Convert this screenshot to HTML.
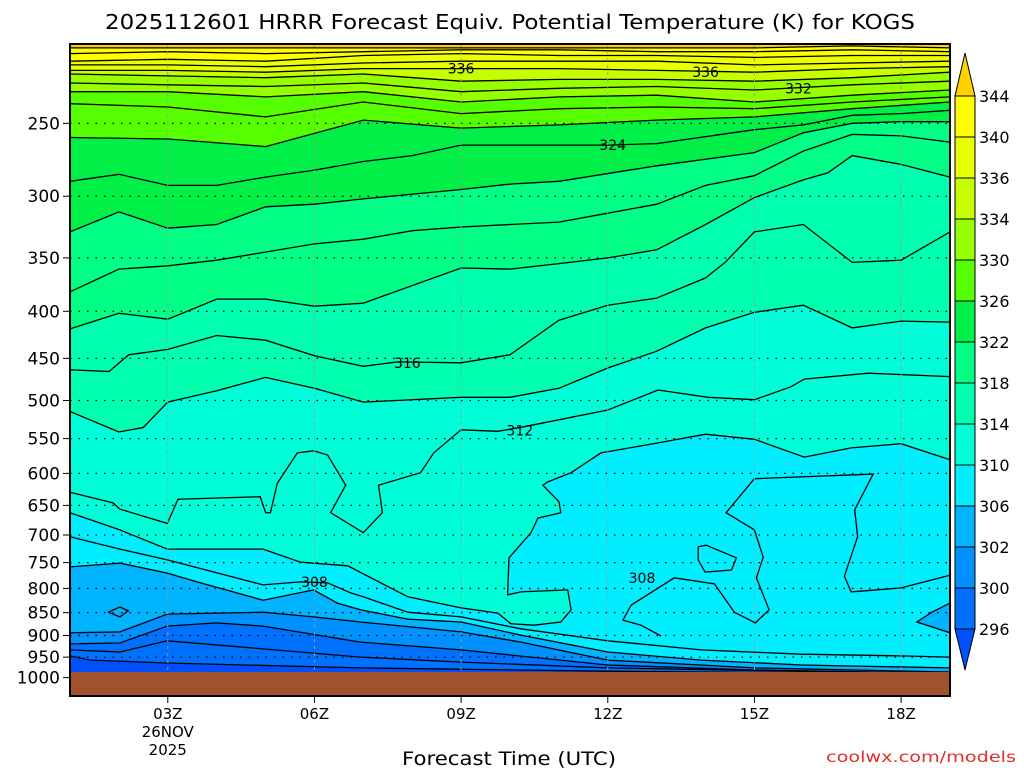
<!DOCTYPE html>
<html><head><meta charset="utf-8">
<style>
html,body{margin:0;padding:0;background:#fff;}
svg{display:block;font-family:"DejaVu Sans","Liberation Sans",sans-serif;}
</style></head>
<body>
<svg id="chart" width="1024" height="768" viewBox="0 0 1024 768" xmlns="http://www.w3.org/2000/svg">
<g id="fills"></g>
<g id="lines"></g>
<g id="grid"></g>
<rect x="70" y="672" width="880" height="24" fill="#a0522d"/>
<g id="labels"></g>
<rect x="70" y="44" width="880" height="652" fill="none" stroke="#000" stroke-width="2"/>
<g id="yaxis"></g>
<g id="xaxis"></g>
<g id="cbar"></g>
<text x="105" y="29" font-size="20" textLength="810" lengthAdjust="spacingAndGlyphs">2025112601 HRRR Forecast Equiv. Potential Temperature (K) for KOGS</text>
<text x="402" y="765" font-size="19" textLength="214" lengthAdjust="spacingAndGlyphs">Forecast Time (UTC)</text>
<text x="826" y="762" font-size="15" fill="#e0302a" textLength="190" lengthAdjust="spacingAndGlyphs">coolwx.com/models</text>
</svg>
<script>
const H = [1,3,5,7,9,11,13,15,17,19];
const contourLevels = [296,298,300,302,306,308,310,312,314,316,318,320,322,324,326,328,330,332,334,336,338,340,342,344];
const contourHours = [
 [1,1.41,2.99,6.94,12,19],
 [1,2.02,2.99,6.94,9,12,19],
 [1,2.02,2.99,3.99,4.95,6.94,9,12,15,19],
 [1,2.02,2.99,4.95,5.98,6.94,9,10.22,12,15,19],
 [1,2.02,2.99,3.6,4.95,5.98,6.47,6.94,7.91,9,10.22,12,13.91,15.96,19],
 [1,2.02,2.99,4.95,5.71,6.27,6.74,7,7.91,9,10.22,12,13.91,15.96,18,19],
 [1,2.02,2.99,4.95,5.71,6.68,7.91,9,9.75,10.02,10.49,11.04,11.25,11.18,10.22,9.95,9.98,10.43,10.57,11.04,11,10.67,10.77,11.25,11.86,13.03,14,15,16.02,16.98,18,19],
 [1,1.88,2.02,2.99,3.21,4.89,5.0,5.1,5.24,5.65,5.98,6.27,6.64,6.33,7.0,7.39,7.31,8.17,8.44,9,9.75,10.28,12,13.03,14.05,15,15.75,16.02,17.33,19],
 [1,2,2.5,3,4,5,6,7,9,10,11,12,13,14,15,16,17,18,19],
 [1,1.8,2.2,3,4,5,6,7,7.7,9,10,11,12,13,14,14.4,15,16,17,18,19],
 [1,2,3,4,5,6,7,9,10,11,12,13,14,15,16,16.5,17,18,19],
 [1,2,3,4,6,7,8,9,10,11,12,13,14,15,16,17,18,19],
 [1,2,3,4,5,6,7,9,10,11,13,15,16,17,18,19],
 [1,2,3,4,5,6,7,8,9,10,12,13,15,16,17,18,19],
 H,H,H,H,H,H,H,H,H,H
];
const contourPress = [
 [947,957,964,976,984,991],
 [933,938,912,950,962,976,991],
 [919,917,879,872,879,915,933,969,981,989],
 [894,892,853,849,859,870,892,915,957,976,986],
 [758,751,770,787,824,803,830,844,864,870,899,938,957,969,976],
 [703,725,745,793,787,789,809,817,849,859,885,912,933,943,947,950],
 [662,691,725,725,749,756,817,840,851,874,877,870,844,803,807,813,741,696,671,662,644,618,613,599,570,556,544,551,576,563,557,580],
 [629,646,656,680,640,636,662,662,615,570,567,573,618,662,696,662,618,599,570,538,540,534,512,487,496,499,483,474,467,471],
 [514,541,535,502,488,472,485,502,496,496,485,461,442,417,401,394,417,410,411],
 [463,465,446,440,425,430,447,459,454,455,446,409,394,387,368,354,328,322,354,352,328],
 [418,402,408,388,388,395,392,359,360,355,350,343,322,301,288,283,271,277,286],
 [381,360,357,352,338,334,327,324,322,320,313,306,292,285,268,257,258,262],
 [328,312,325,322,308,306,302,295,291,289,278,269,256,250,249,249],
 [289,284,292,292,286,281,275,271,264,264,264,263,254,251,245,244,242],
 [259,260,265,248,253,251,248,246,241,237],
 [238,240,246,237,244,241,240,241,237,234],
 [231,231,234,231,237,234,233,237,233,230],
 [226,227,228,226,231,229,228,230,227,225],
 [221,222,223,221,225,224,224,225,223,220],
 [219,219,220,218,218,218,219,220,218,217],
 [216,216,217,215,214,214,214,216,215,214],
 [214,213,214,211,210,211,211,212,211,211],
 [210,209,210,209,208,208,209,209,208,209],
 [207,207,207,207,207,207,207,207,206,207]
];
const loopLevels = [308,308,304];
const loopHours = [
 [19,18,16.98,16.84,17.11,17.05,17.43,15,14.42,15,15.18,15.04,15.3,15.02,14.59,14.18,13.36,12.48,12.31,12.68,13.09],
 [13.85,14.01,14.63,14.53,13.99,13.85,13.85],
 [1.78,2.02,2.19,2.02,1.78]
];
const loopPress = [
 [774,799,807,776,703,657,601,608,662,691,740,779,844,872,849,791,779,834,866,877,901],
 [721,718,741,764,768,745,721],
 [849,838,846,859,849]
];
const blobLevels = [306];
const blobHours = [[19,18.63,18.32,19]];
const blobPress = [[830,849,870,894]];
const labelTexts = ["336","336","332","324","316","312","308","308"];
const labelHours = [9,14,15.9,12.1,7.9,10.2,6,12.7];
const labelPress = [218,220,229,264,455,539,787,779];
const bandEdges = [296,300,302,306,310,314,318,322,326,330,334,336,340,344];
const bandColors = ["#0050ff","#0070ff","#0090ff","#00b4ff","#00eeff","#00ffd8","#00ffae","#00ff84","#00f048","#55ff00","#96ff00","#c8ff00","#eaff00","#ffff00","#ffd200"];
const pressTicks = [250,300,350,400,450,500,550,600,650,700,750,800,850,900,950,1000];
const timeTicks = [3,6,9,12,15,18];
const timeLabels = ["03Z","06Z","09Z","12Z","15Z","18Z"];

const NS="http://www.w3.org/2000/svg";
const X0=70,X1=950,Y0=44,Y1=696,pTop=205,pBot=1047;
function xOf(h){return X0+(h-1)*(X1-X0)/18;}
function yOf(p){return Y0+(Y1-Y0)*(Math.log(p)-Math.log(pTop))/(Math.log(pBot)-Math.log(pTop));}
function colorFor(v){let i=0;while(i<bandEdges.length&&v>=bandEdges[i])i++;return bandColors[i];}
function mk(tag,attrs,parent){const e=document.createElementNS(NS,tag);for(const k in attrs)e.setAttribute(k,attrs[k]);parent.appendChild(e);return e;}
function pts(hs,ps){return hs.map((h,i)=>xOf(h).toFixed(1)+","+yOf(ps[i]).toFixed(1));}

const fills=document.getElementById('fills'),lines=document.getElementById('lines');
let bg=mk('rect',{x:X0,y:Y0,width:X1-X0,height:Y1-Y0,fill:bandColors[0]},fills);


const order=contourLevels.map((l,i)=>i).sort((a,b)=>contourLevels[a]-contourLevels[b]);
order.forEach(i=>{
  const P=pts(contourHours[i],contourPress[i]);
  const f=mk('path',{d:"M"+P.join(" L")+" L"+X1+","+Y0+" L"+X0+","+Y0+" Z",fill:colorFor(contourLevels[i]+0.5)},fills);
  
  
});
blobLevels.forEach((l,i)=>{
  const P=pts(blobHours[i],blobPress[i]);
  const f=mk('path',{d:"M"+P.join(" L")+" Z",fill:colorFor(l-0.5),stroke:"#000","stroke-width":1.3},fills);
  
  
});
contourLevels.forEach((l,i)=>{
  const P=pts(contourHours[i],contourPress[i]);
  const e=mk('polyline',{points:P.join(" "),fill:"none",stroke:"#000","stroke-width":1.3},lines);
  
  
});
loopLevels.forEach((l,i)=>{
  const P=pts(loopHours[i],loopPress[i]);
  const e=mk('polyline',{points:P.join(" "),fill:"none",stroke:"#000","stroke-width":1.3},lines);
  
  
});
const labels=document.getElementById('labels');
labelTexts.forEach((t,i)=>{
  const x=xOf(labelHours[i]),y=yOf(labelPress[i]);
  const e=mk('text',{x:x,y:y+5,"font-size":14,"text-anchor":"middle"},labels);
  e.textContent=t;
  
  
});
const grid=document.getElementById('grid'),yaxis=document.getElementById('yaxis'),xaxis=document.getElementById('xaxis');
pressTicks.forEach(p=>{
  const y=yOf(p);
  const g=mk('line',{x1:X0,x2:X1,y1:y,y2:y,stroke:"#000","stroke-width":1.3,"stroke-dasharray":"1.5 7"},grid);
  
  
  const t=mk('line',{x1:X0-7,x2:X0,y1:y,y2:y,stroke:"#000","stroke-width":1},yaxis);
  
  
  const tx=mk('text',{x:X0-10,y:y+6,"font-size":17,"text-anchor":"end"},yaxis);
  tx.textContent=String(p);
  
  
});
timeTicks.forEach((h,i)=>{
  const x=xOf(h);
  const g=mk('line',{x1:x,x2:x,y1:Y0,y2:Y1,stroke:"#999","stroke-width":1,"stroke-dasharray":"3 4"},grid);
  
  
  const t=mk('line',{x1:x,x2:x,y1:Y1,y2:Y1+7,stroke:"#000","stroke-width":1},xaxis);
  
  
  const tx=mk('text',{x:x,y:Y1+23,"font-size":15,"text-anchor":"middle"},xaxis);
  tx.textContent=timeLabels[i];
  
  
});
let d1=mk('text',{x:xOf(3),y:737,"font-size":15,"text-anchor":"middle"},xaxis);
d1.textContent="26NOV";


let d2=mk('text',{x:xOf(3),y:755,"font-size":15,"text-anchor":"middle"},xaxis);
d2.textContent="2025";



// colorbar
const cb=document.getElementById('cbar');
const cbX=955,cbW=20,cbTop=96,cbStep=41;
const cbLabels=bandEdges.slice().reverse();
const up=mk('path',{d:`M${cbX},${cbTop} L${cbX+cbW/2},53 L${cbX+cbW},${cbTop} Z`,fill:bandColors[bandColors.length-1],stroke:"#000","stroke-width":1},cb);


cbLabels.forEach((v,i)=>{
  const y=cbTop+i*cbStep;
  if(i<cbLabels.length-1){
    const r=mk('rect',{x:cbX,y:y,width:cbW,height:cbStep,fill:colorFor(v-0.5),stroke:"#000","stroke-width":1},cb);
    
    
  }
  const t=mk('text',{x:cbX+24,y:y+6,"font-size":16},cb);
  t.textContent=String(v);
  
  
});
const lastY=cbTop+(cbLabels.length-1)*cbStep;
const dn=mk('path',{d:`M${cbX},${lastY} L${cbX+cbW/2},${lastY+41} L${cbX+cbW},${lastY} Z`,fill:bandColors[0],stroke:"#000","stroke-width":1},cb);


</script>
</body></html>
